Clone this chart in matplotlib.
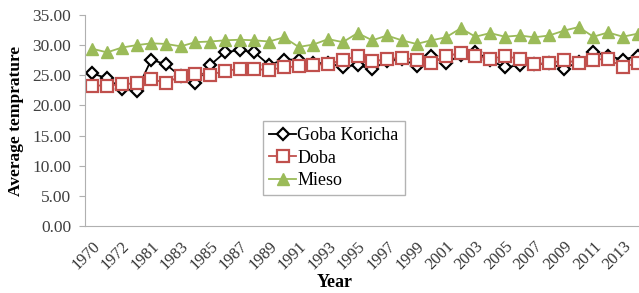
import matplotlib
matplotlib.use("Agg")
import matplotlib.pyplot as plt
import numpy as np

# godine (kategorije) - 1973-1979 nema u podacima
years = [1970, 1971, 1972] + list(range(1980, 2015))

goba_koricha = [25.3, 24.5, 22.8, 22.4, 27.6, 26.8, 24.8, 23.7, 26.7, 28.8,
                29.2, 28.8, 26.7, 27.6, 27.6, 27.0, 27.0, 26.4, 26.7, 26.0,
                27.4, 27.7, 26.6, 28.2, 27.0, 28.4, 28.9, 27.5, 26.3, 26.7,
                26.8, 27.0, 26.1, 27.2, 28.9, 28.2, 27.6, 28.2]
doba = [23.3, 23.3, 23.5, 23.7, 24.4, 23.7, 24.9, 25.2, 25.1, 25.7,
        26.1, 26.0, 25.9, 26.3, 26.5, 26.7, 26.9, 27.5, 28.2, 27.3,
        27.7, 27.9, 27.6, 27.0, 28.2, 28.7, 28.2, 27.7, 28.2, 27.7,
        26.8, 27.0, 27.5, 27.1, 27.6, 27.7, 26.4, 27.0]
mieso = [29.4, 28.8, 29.6, 30.0, 30.3, 30.2, 29.8, 30.5, 30.6, 30.8,
         30.9, 30.8, 30.6, 31.3, 29.7, 30.1, 31.0, 30.5, 32.0, 30.8,
         31.6, 30.8, 30.2, 30.8, 31.3, 32.8, 31.4, 32.0, 31.4, 31.6,
         31.3, 31.6, 32.4, 33.0, 31.4, 32.1, 31.4, 31.9]

plt.rcParams['font.family'] = ['Liberation Serif', 'DejaVu Serif']

fig = plt.figure(figsize=(6.39, 2.93), dpi=100)
ax = fig.add_axes([0.133, 0.2287, 0.867, 0.7201])

x = np.arange(len(years))
ax.plot(x, goba_koricha, color='black', lw=1.3, marker='D', ms=6.5,
        mfc='white', mec='black', mew=1.6, label='Goba Koricha')
ax.plot(x, doba, color='#c0504d', lw=1.3, marker='s', ms=8.5,
        mfc='white', mec='#c0504d', mew=1.6, label='Doba')
ax.plot(x, mieso, color='#9bbb59', lw=1.3, marker='^', ms=8.5,
        mfc='#9bbb59', mec='#9bbb59', label='Mieso')

ax.set_xlim(-0.5, 37.1)
ax.set_ylim(0, 35)
ax.set_yticks(np.arange(0, 35.1, 5))
ax.set_yticklabels(['%.2f' % v for v in np.arange(0, 35.1, 5)])
ax.set_xticks(x[::2])
ax.set_xticklabels([str(y) for y in years[::2]], rotation=45, ha='right',
                   rotation_mode='anchor')

for s in ['top', 'right']:
    ax.spines[s].set_visible(False)
for s in ['left', 'bottom']:
    ax.spines[s].set_color('#b0b0b0')
ax.tick_params(axis='y', length=4, color='#b0b0b0', labelsize=12.5,
               labelcolor='#404040', pad=6)
ax.tick_params(axis='x', length=0, labelsize=11.8, labelcolor='#333333', pad=9)

ax.set_ylabel('Average temprature', fontsize=12.5, fontweight='bold',
              va='center')
ax.yaxis.set_label_coords(-0.125, 0.5)
ax.set_xlabel('Year', fontsize=13, fontweight='bold', va='center')
ax.xaxis.set_label_coords(0.45, -0.27)

leg = ax.legend(loc='upper left', bbox_to_anchor=(0.4116, 0.587),
                bbox_transform=fig.transFigure, fontsize=13, frameon=True,
                fancybox=False, edgecolor='#a0a0a0', handlelength=1.5,
                handletextpad=0.05, borderpad=0.35, labelspacing=0.3,
                borderaxespad=0)
leg.get_frame().set_linewidth(1.0)

fig.savefig('out.png', dpi=100)
